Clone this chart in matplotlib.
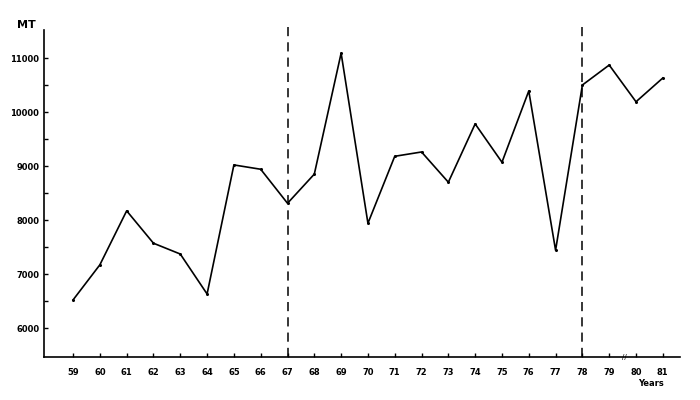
import matplotlib.pyplot as plt

# Production (MT) by year
years = [59, 60, 61, 62, 63, 64, 65, 66, 67, 68, 69, 70,
         71, 72, 73, 74, 75, 76, 77, 78, 79, 80, 81]
production = [6520, 7170, 8170, 7570, 7370, 6630, 9020, 8940, 8310, 8850, 11090, 7940,
              9180, 9260, 8700, 9780, 9070, 10390, 7440, 10500, 10870, 10190, 10630]
y_ticks = [6000, 7000, 8000, 9000, 10000, 11000]
period_breaks = [67, 78]


def make_chart():
    fig = plt.figure(figsize=(7, 4), dpi=100)
    ax = fig.add_axes([0.063, 0.1075, 0.908, 0.8175])

    ax.plot(years, production, color='black', linewidth=1.2,
            marker='o', markersize=1.2)

    # dashed period separators, running a little above the axes
    for yr in period_breaks:
        ax.plot([yr, yr], [5463, 11640], color='black', linestyle=(0, (6, 4)),
                linewidth=1.1, clip_on=False)

    ax.set_xlim(57.92, 81.63)
    ax.set_ylim(5463, 11519)

    ax.spines['top'].set_visible(False)
    ax.spines['right'].set_visible(False)
    ax.spines['left'].set_linewidth(1.2)
    ax.spines['bottom'].set_linewidth(1.2)

    ax.set_xticks(years)
    ax.set_xticklabels([str(y) for y in years], fontsize=6, fontweight='bold')
    ax.set_yticks(y_ticks)
    ax.set_yticklabels([str(v) for v in y_ticks], fontsize=6, fontweight='bold')
    ax.set_yticks([v + 500 for v in y_ticks[:-1]], minor=True)
    ax.tick_params(axis='both', which='both', direction='in', length=3, width=1)
    ax.tick_params(axis='x', pad=8)

    fig.text(0.025, 0.93, "MT", fontsize=8, fontweight='bold', ha='left')
    fig.text(0.93, 0.035, "Years", fontsize=6, fontweight='bold', ha='center')
    ax.text(79.55, 5463, "//", fontsize=5, ha='center', va='center')

    plt.savefig("out.png", dpi=100)
    plt.close()


if __name__ == "__main__":
    make_chart()
